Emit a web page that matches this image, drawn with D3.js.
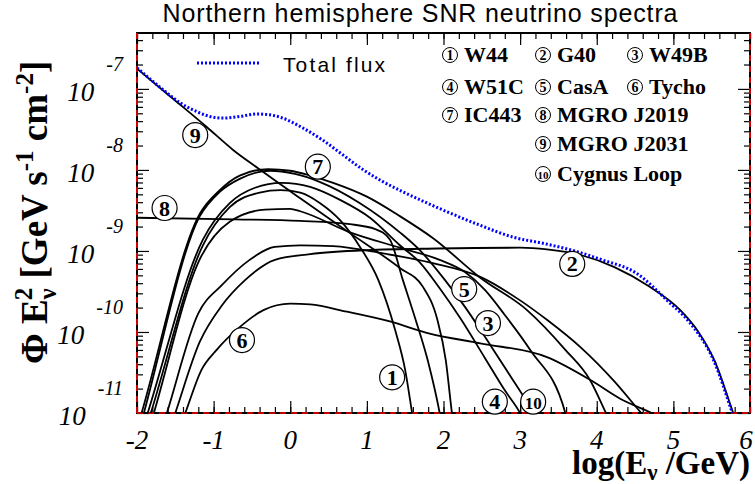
<!DOCTYPE html>
<html>
<head>
<meta charset="utf-8">
<script src="https://cdn.jsdelivr.net/npm/d3@7"></script>
<style>
body { margin: 0; background: #fff; }
</style>
</head>
<body>
<svg id="chart" width="755" height="484"></svg>
<script>
// values: log10(E / GeV) and log10(E^2 flux)
const total_logE = [-2.00,-1.66,-1.44,-1.22,-1.05,-0.88,-0.66,-0.44,-0.27,-0.10,0.16,0.42,0.68,0.94,1.20,1.47,1.79,2.08,2.47,2.91,3.32,3.71,4.07,4.51,4.94,5.21,5.53,5.77,5.84];
const total_logF = [-6.74,-7.01,-7.17,-7.28,-7.34,-7.36,-7.34,-7.31,-7.32,-7.36,-7.48,-7.63,-7.81,-7.99,-8.14,-8.27,-8.41,-8.53,-8.68,-8.83,-8.91,-9.00,-9.11,-9.27,-9.63,-9.88,-10.36,-11.0,-11.19];

const w44_logE = [-1.87,-1.82,-1.14,-0.79,-0.40,-0.13,0.13,0.39,0.65,0.91,1.15,1.37,1.50,1.59,1.62];
const w44_logF = [-11.15,-11.0,-8.93,-8.46,-8.28,-8.25,-8.28,-8.41,-8.62,-8.95,-9.36,-9.98,-10.47,-11.0,-11.18];

const g40_logE = [-1.56,-1.50,-1.18,-0.89,-0.59,-0.20,0.26,1.00,1.92,3.00,3.35,3.79,4.23,4.67,5.10,5.32,5.54,5.78,5.85];
const g40_logF = [-11.17,-11.0,-10.12,-9.67,-9.36,-9.11,-9.04,-8.99,-8.97,-8.96,-8.98,-9.05,-9.20,-9.43,-9.74,-9.99,-10.36,-11.0,-11.19];

const w49b_logE = [-1.83,-1.78,-1.20,-0.79,-0.33,0.00,0.13,0.78,1.43,1.95,2.28,2.54,2.80,3.13,3.59,3.63];
const w49b_logF = [-11.16,-11.0,-9.14,-8.64,-8.49,-8.48,-8.51,-8.77,-8.96,-9.11,-9.26,-9.48,-9.79,-10.22,-11.0,-11.15];

const w51c_logE = [-1.91,-1.86,-1.14,-0.79,-0.46,-0.11,0.26,0.65,1.04,1.43,1.69,1.95,2.22,2.54,2.80,3.00,3.08];
const w51c_logF = [-11.15,-11.0,-8.86,-8.41,-8.22,-8.16,-8.21,-8.37,-8.59,-8.93,-9.14,-9.46,-9.83,-10.32,-10.72,-11.0,-11.15];

const casa_logE = [-1.66,-1.61,-1.20,-0.89,-0.53,-0.20,0.13,0.56,1.21,1.86,2.48,3.00,3.35,3.79,4.23,4.58,4.70];
const casa_logF = [-11.15,-11.0,-9.77,-9.42,-9.11,-8.95,-8.93,-8.94,-9.03,-9.15,-9.32,-9.61,-9.85,-10.19,-10.61,-11.0,-11.13];

const tycho_logE = [-1.43,-1.37,-1.16,-0.96,-0.66,-0.35,0.00,0.26,0.74,1.30,1.82,2.48,3.35,3.93,4.30,4.72,4.90];
const tycho_logF = [-11.15,-11.0,-10.47,-10.22,-9.94,-9.73,-9.65,-9.66,-9.75,-9.87,-10.02,-10.14,-10.31,-10.60,-10.82,-11.0,-11.08];

const ic443_logE = [-1.98,-1.94,-1.18,-0.92,-0.66,-0.29,0.00,0.26,0.56,1.00,1.43,1.86,2.48,3.09,3.59,3.91,4.12,4.20];
const ic443_logF = [-11.13,-11.0,-8.54,-8.25,-8.07,-7.99,-8.01,-8.07,-8.16,-8.33,-8.57,-8.84,-9.33,-9.73,-10.22,-10.59,-11.0,-11.16];

const j2019_logE = [-2.00,-0.72,0.13,0.78,1.11,1.30,1.47,1.63,1.80,1.95,1.99];
const j2019_logF = [-8.59,-8.61,-8.63,-8.67,-8.73,-8.86,-9.36,-9.83,-10.37,-11.0,-11.21];

const j2031_logE = [-2.00,-1.57,-1.09,-0.75,-0.42,0.13,0.78,1.43,1.73,1.92,2.03,2.11,2.14];
const j2031_logF = [-6.75,-7.09,-7.47,-7.75,-7.98,-8.35,-8.78,-9.21,-9.44,-9.85,-10.35,-11.0,-11.21];

const cygnus_logE = [-1.95,-1.91,-1.18,-0.92,-0.66,-0.26,0.06,0.39,0.91,1.43,1.69,2.02,2.28,2.61,2.87,3.18,3.23];
const cygnus_logF = [-11.14,-11.0,-8.57,-8.27,-8.11,-8.01,-8.05,-8.15,-8.41,-8.77,-8.99,-9.36,-9.69,-10.16,-10.54,-11.0,-11.08];

const source_names = ["W44","G40","W49B","W51C","CasA","Tycho","IC443","MGRO J2019","MGRO J2031","Cygnus Loop"];

// circled numbers drawn next to the curves
const mark_ids  = [9, 8, 7, 6, 5, 3, 2, 1, 4, 10];
const mark_logE = [-1.24,-1.64,0.36,-0.63,2.27,2.58,3.68,1.33,2.67,3.17];
const mark_logF = [-7.57,-8.47,-7.96,-10.10,-9.47,-9.89,-9.16,-10.56,-10.86,-10.86];

const x_ticks = [-2,-1,0,1,2,3,4,5,6];
const y_decades = [-11,-10,-9,-8,-7];

const serif = "'Liberation Serif','Times New Roman',serif";
const sans = "'Liberation Sans',Arial,sans-serif";

let svg = d3.select("#chart");
let pLeft = 137, pRight = 750, pTop = 33, pBottom = 413;

let x = d3.scaleLinear().domain([-2, 6]).range([pLeft, pRight]);
let y = d3.scaleLog().domain([1e-11, Math.pow(10, -6.31)]).range([pBottom, pTop]);

let zip = (a, b) => a.map((v, i) => [v, b[i]]);
let series = [
    zip(w44_logE, w44_logF), zip(g40_logE, g40_logF), zip(w49b_logE, w49b_logF),
    zip(w51c_logE, w51c_logF), zip(casa_logE, casa_logF), zip(tycho_logE, tycho_logF),
    zip(ic443_logE, ic443_logF), zip(j2019_logE, j2019_logF), zip(j2031_logE, j2031_logF),
    zip(cygnus_logE, cygnus_logF)
];

let line = d3.line()
    .x(d => x(d[0]))
    .y(d => y(Math.pow(10, d[1])))
    .curve(d3.curveMonotoneX);

svg.append("clipPath").attr("id", "plotclip")
    .append("rect")
    .attr("x", pLeft).attr("y", pTop)
    .attr("width", pRight - pLeft).attr("height", pBottom - pTop);

// title
svg.append("text")
    .attr("x", 420).attr("y", 22)
    .attr("text-anchor", "middle")
    .attr("font-family", sans)
    .attr("font-size", 25)
    .attr("textLength", 515)
    .attr("lengthAdjust", "spacing")
    .text("Northern hemisphere SNR neutrino spectra");

// frame
svg.append("rect")
    .attr("x", pLeft).attr("y", pTop)
    .attr("width", pRight - pLeft).attr("height", pBottom - pTop)
    .attr("fill", "none").attr("stroke", "#000").attr("stroke-width", 2);

// ticks on all four sides
let x_minor = d3.range(-2, 6.001, 0.2).map(v => +v.toFixed(1));
let y_minor = [];
y_decades.concat([-6]).forEach(n => {
    for (let k = 2; k < 10; k++) {
        let v = k * Math.pow(10, n - 1);
        if (v > 1e-11 && v < Math.pow(10, -6.31)) y_minor.push(v);
    }
});
let y_major = y_decades.map(n => Math.pow(10, n));

function frameTicks(axis, vals, size, transform) {
    svg.append("g")
        .attr("transform", transform)
        .call(axis.tickValues(vals).tickSize(size).tickFormat(""))
        .call(g => g.select(".domain").remove())
        .selectAll("line").attr("stroke", "#000").attr("stroke-width", 1.2);
}
frameTicks(d3.axisBottom(x), x_minor, -6, "translate(0," + pBottom + ")");
frameTicks(d3.axisBottom(x), x_ticks, -12, "translate(0," + pBottom + ")");
frameTicks(d3.axisTop(x), x_minor, -6, "translate(0," + pTop + ")");
frameTicks(d3.axisTop(x), x_ticks, -12, "translate(0," + pTop + ")");
frameTicks(d3.axisLeft(y), y_minor, -6, "translate(" + pLeft + ",0)");
frameTicks(d3.axisLeft(y), y_major, -12, "translate(" + pLeft + ",0)");
frameTicks(d3.axisRight(y), y_minor, -6, "translate(" + pRight + ",0)");
frameTicks(d3.axisRight(y), y_major, -12, "translate(" + pRight + ",0)");

// red dashed edges
let red = svg.append("g")
    .attr("stroke", "#ff0000").attr("stroke-width", 1.6)
    .attr("stroke-dasharray", "6,5").attr("fill", "none");
red.append("line").attr("x1", pLeft).attr("x2", pLeft).attr("y1", pTop).attr("y2", pBottom);
red.append("line").attr("x1", pRight).attr("x2", pRight).attr("y1", pTop).attr("y2", pBottom);
red.append("line").attr("x1", pLeft).attr("x2", pRight).attr("y1", pBottom).attr("y2", pBottom);

// x tick labels
svg.selectAll(".xlab")
    .data(x_ticks).enter()
    .append("text")
    .attr("x", d => Math.min(x(d), 746)).attr("y", 449)
    .attr("text-anchor", "middle")
    .attr("font-family", serif).attr("font-style", "italic")
    .attr("font-size", 27)
    .text(d => d);

// y tick labels 10^n
let ylab = svg.selectAll(".ylab")
    .data(y_decades).enter()
    .append("text")
    .attr("x", 123)
    .attr("y", d => y(Math.pow(10, d)) + 12)
    .attr("text-anchor", "end")
    .attr("font-family", serif).attr("font-style", "italic")
    .attr("font-size", 27);
ylab.append("tspan").text("10");
ylab.append("tspan").attr("dx", 12).attr("dy", -30).attr("font-size", 20).text(d => d);

// axis titles
let ytitle = svg.append("text")
    .attr("transform", "translate(47,364) rotate(-90)")
    .attr("font-family", serif).attr("font-weight", "bold")
    .attr("font-size", 37);
ytitle.append("tspan").text("\u03A6 E");
ytitle.append("tspan").attr("font-size", 25).attr("dy", 9).text("\u03BD");
ytitle.append("tspan").attr("font-size", 25).attr("dx", -12).attr("dy", -24).text("2");
ytitle.append("tspan").attr("dy", 15).text(" [GeV s");
ytitle.append("tspan").attr("font-size", 25).attr("dy", -14).text("-1");
ytitle.append("tspan").attr("dy", 14).text(" cm");
ytitle.append("tspan").attr("font-size", 25).attr("dy", -14).text("-2");
ytitle.append("tspan").attr("dy", 14).text("]");

let xtitle = svg.append("text")
    .attr("x", 750).attr("y", 474)
    .attr("text-anchor", "end")
    .attr("font-family", serif).attr("font-weight", "bold")
    .attr("font-size", 33);
xtitle.append("tspan").text("log(E");
xtitle.append("tspan").attr("font-size", 23).attr("dy", 6).text("\u03BD");
xtitle.append("tspan").attr("dy", -6).text(" /GeV)");

// curves
let plot = svg.append("g").attr("clip-path", "url(#plotclip)");
plot.selectAll(".src")
    .data(series).enter()
    .append("path")
    .attr("d", line)
    .attr("fill", "none").attr("stroke", "#000").attr("stroke-width", 1.8);

plot.append("path")
    .attr("d", line(zip(total_logE, total_logF)))
    .attr("fill", "none").attr("stroke", "#0000ff")
    .attr("stroke-width", 3).attr("stroke-dasharray", "2,2");

// circled numbers on the curves
let marks = svg.selectAll(".mark")
    .data(mark_ids).enter()
    .append("g")
    .attr("transform", (d, i) => "translate(" + x(mark_logE[i]) + "," + y(Math.pow(10, mark_logF[i])) + ")");
marks.append("circle").attr("r", 12.5)
    .attr("fill", "#fff").attr("stroke", "#000").attr("stroke-width", 1.2);
marks.append("text")
    .attr("y", 7.5)
    .attr("text-anchor", "middle")
    .attr("font-family", serif).attr("font-weight", "bold")
    .attr("font-size", d => d > 9 ? 17 : 22)
    .attr("textLength", d => d > 9 ? 17 : null)
    .attr("lengthAdjust", "spacingAndGlyphs")
    .text(d => d);

// total flux legend
svg.append("line")
    .attr("x1", 197).attr("x2", 259).attr("y1", 63).attr("y2", 63)
    .attr("stroke", "#0000ff").attr("stroke-width", 3).attr("stroke-dasharray", "2,2");
svg.append("text")
    .attr("x", 283).attr("y", 72)
    .attr("font-family", sans).attr("font-size", 21)
    .attr("textLength", 102).attr("lengthAdjust", "spacing")
    .text("Total flux");

// source legend
let legend_x = [450, 543, 635, 450, 543, 635, 450, 543, 543, 543];
let legend_y = [62, 62, 62, 94, 94, 94, 122, 122, 151, 181];
let leg = svg.selectAll(".leg")
    .data(source_names).enter()
    .append("g")
    .attr("transform", (d, i) => "translate(" + legend_x[i] + "," + legend_y[i] + ")");
leg.append("circle").attr("cy", -7).attr("r", 7.5)
    .attr("fill", "none").attr("stroke", "#000").attr("stroke-width", 1);
leg.append("text")
    .attr("y", -2)
    .attr("text-anchor", "middle")
    .attr("font-family", serif).attr("font-weight", "bold")
    .attr("font-size", (d, i) => i == 9 ? 11 : 14)
    .text((d, i) => i + 1);
leg.append("text")
    .attr("x", 14)
    .attr("font-family", serif).attr("font-weight", "bold")
    .attr("font-size", 22)
    .text(d => d);
</script>
</body>
</html>
